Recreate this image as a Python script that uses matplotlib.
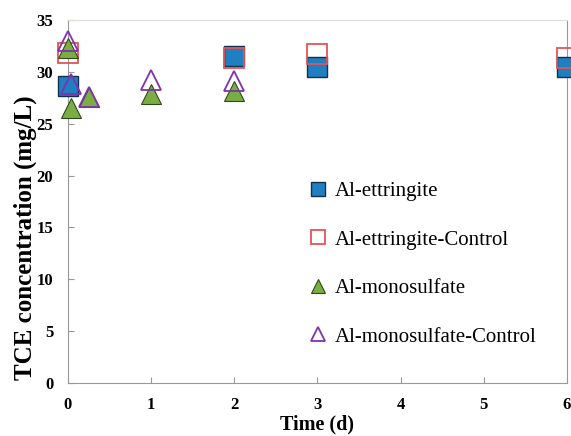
import matplotlib
matplotlib.use("Agg")
import matplotlib.pyplot as plt

plt.rcParams['font.family'] = ['Liberation Serif', 'DejaVu Serif']

# Data
ett_t = [0, 2, 3, 6]
ett_c = [28.6, 31.5, 30.5, 30.5]
ettc_t = [0, 2, 3, 6]
ettc_c = [31.8, 31.3, 31.7, 31.3]
mono_t = [0, 0.04, 0.25, 1, 2]
mono_c = [32.3, 26.5, 27.6, 27.9, 28.2]
monoc_t = [0, 0.04, 0.25, 1, 2]
monoc_c = [33.0, 28.8, 27.6, 29.2, 29.1]
xticks = [0, 1, 2, 3, 4, 5, 6]
yticks = [0, 5, 10, 15, 20, 25, 30, 35]

fig = plt.figure(figsize=(5.71, 4.36), dpi=100)
ax = fig.add_axes([0.119, 0.1216, 0.874, 0.8324])

ms = 14
ax.plot(ett_t, ett_c, 's', ms=ms, mfc='#1f7fc0', mec='#10304f', mew=1.0,
        label='Al-ettringite', clip_on=False, zorder=3)
ax.plot(ettc_t, ettc_c, 's', ms=ms, mfc='none', mec='#e05555', mew=1.3,
        label='Al-ettringite-Control', clip_on=False, zorder=4)
ax.plot(mono_t, mono_c, '^', ms=ms, mfc='#7aae45', mec='#2e4a1a', mew=0.8,
        label='Al-monosulfate', clip_on=False, zorder=5)
ax.plot(monoc_t, monoc_c, '^', ms=ms, mfc='none', mec='#8030b0', mew=1.3,
        label='Al-monosulfate-Control', clip_on=False, zorder=6)

ax.set_xlim(0, 6)
ax.set_ylim(0, 35)
ax.set_xticks(xticks)
ax.set_yticks(yticks)
ax.tick_params(direction='in', length=4, color='#999999', labelsize=12)
ax.tick_params(axis='x', pad=10)
ax.tick_params(axis='y', pad=10.5)
for lab in ax.get_xticklabels() + ax.get_yticklabels():
    lab.set_fontweight('bold')

for s in ['left', 'bottom', 'right']:
    ax.spines[s].set_color('#999999')
ax.spines['top'].set_color('#dddddd')

ax.set_xlabel('Time (d)', fontsize=14.5, fontweight='bold', labelpad=1)
ax.set_ylabel('TCE concentration (mg/L)', fontsize=18, fontweight='bold')
ax.yaxis.set_label_coords(-0.062, 0.40)

leg = ax.legend(loc='upper left', bbox_to_anchor=(0.439, 0.607), frameon=False,
                fontsize=15, markerscale=0.7, labelspacing=1.39,
                handletextpad=0.2, handlelength=1.2)

fig.savefig('out.png', dpi=100)
